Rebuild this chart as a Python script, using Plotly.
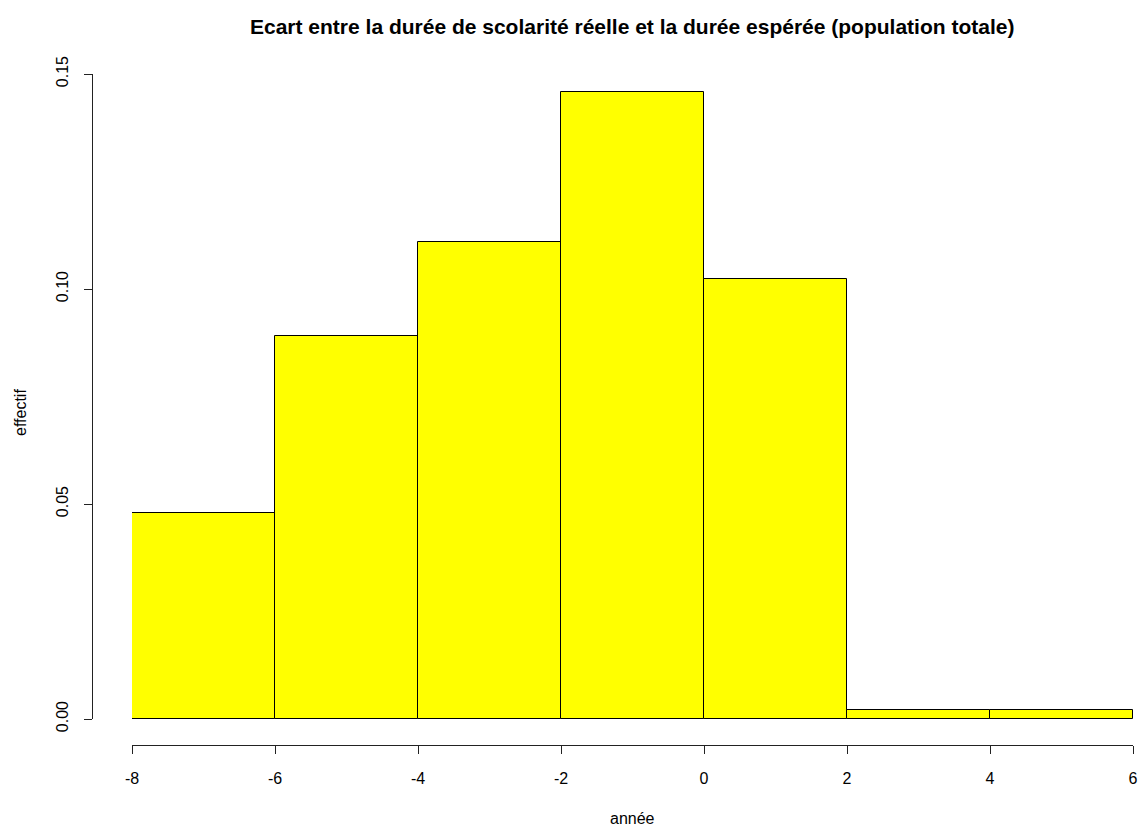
import plotly.graph_objects as go

# Data (density scale)
bin_edges = [-8, -6, -4, -2, 0, 2, 4, 6]
densities = [0.0479, 0.0891, 0.1109, 0.1458, 0.1023, 0.0022, 0.0022]
x_ticks = [-8, -6, -4, -2, 0, 2, 4, 6]
y_ticks = [0.00, 0.05, 0.10, 0.15]
y_tick_labels = ["0.00", "0.05", "0.10", "0.15"]

title_text = "Ecart entre la durée de scolarité réelle et la durée espérée (population totale)"
x_title = "année"
y_title = "effectif"

mids = [(bin_edges[i] + bin_edges[i + 1]) / 2 for i in range(len(densities))]
widths = [bin_edges[i + 1] - bin_edges[i] for i in range(len(densities))]

W, H = 1139, 827
FONT = "Liberation Sans, Arial, sans-serif"

fig = go.Figure()
fig.add_trace(go.Bar(
    x=mids, y=densities, width=widths,
    marker=dict(color="#FFFF00", line=dict(color="black", width=1)),
    hoverinfo="x+y",
    cliponaxis=False,
))

fig.update_layout(
    width=W, height=H,
    autosize=False,
    margin=dict(l=0, r=0, t=0, b=0, pad=0, autoexpand=False),
    paper_bgcolor="white", plot_bgcolor="white",
    showlegend=False,
    bargap=0,
    font=dict(family=FONT, size=16, color="black"),
    xaxis=dict(
        domain=[132 / W, 1133 / W],
        range=[-8, 6],
        anchor="free", position=1 - 745 / H,
        automargin=False,
        showgrid=False, zeroline=False,
        showline=True, linecolor="#222", linewidth=1,
        ticks="outside", ticklen=8, tickcolor="#222", tickwidth=1,
        tickvals=x_ticks, ticktext=[str(v) for v in x_ticks],
        tickfont=dict(family=FONT, size=16, color="black"),
        ticklabelstandoff=11,
    ),
    yaxis=dict(
        domain=[1 - 719 / H, 1 - 74 / H],
        range=[0, 0.15],
        anchor="free", position=92 / W,
        automargin=False,
        showgrid=False, zeroline=False,
        showline=True, linecolor="#222", linewidth=1,
        ticks="outside", ticklen=8, tickcolor="#222", tickwidth=1,
        tickvals=y_ticks, ticktext=y_tick_labels,
        tickangle=-90,
        tickfont=dict(family=FONT, size=16, color="black"),
        ticklabelstandoff=10,
    ),
    annotations=[
        dict(text="<b>" + title_text + "</b>", x=632 / W, y=1 - 27 / H,
             xref="paper", yref="paper", showarrow=False,
             xanchor="center", yanchor="middle",
             font=dict(family=FONT, size=21, color="black")),
        dict(text=x_title, x=632 / W, y=1 - 818 / H,
             xref="paper", yref="paper", showarrow=False,
             xanchor="center", yanchor="middle",
             font=dict(family=FONT, size=16, color="black")),
        dict(text=y_title, x=20 / W, y=1 - 413 / H,
             xref="paper", yref="paper", showarrow=False, textangle=-90,
             xanchor="center", yanchor="middle",
             font=dict(family=FONT, size=16, color="black")),
    ],
)

fig.write_html(
    "out.html",
    config={"responsive": False, "displayModeBar": False},
    post_script="document.body.style.margin='0px';document.body.style.overflow='hidden';",
)
